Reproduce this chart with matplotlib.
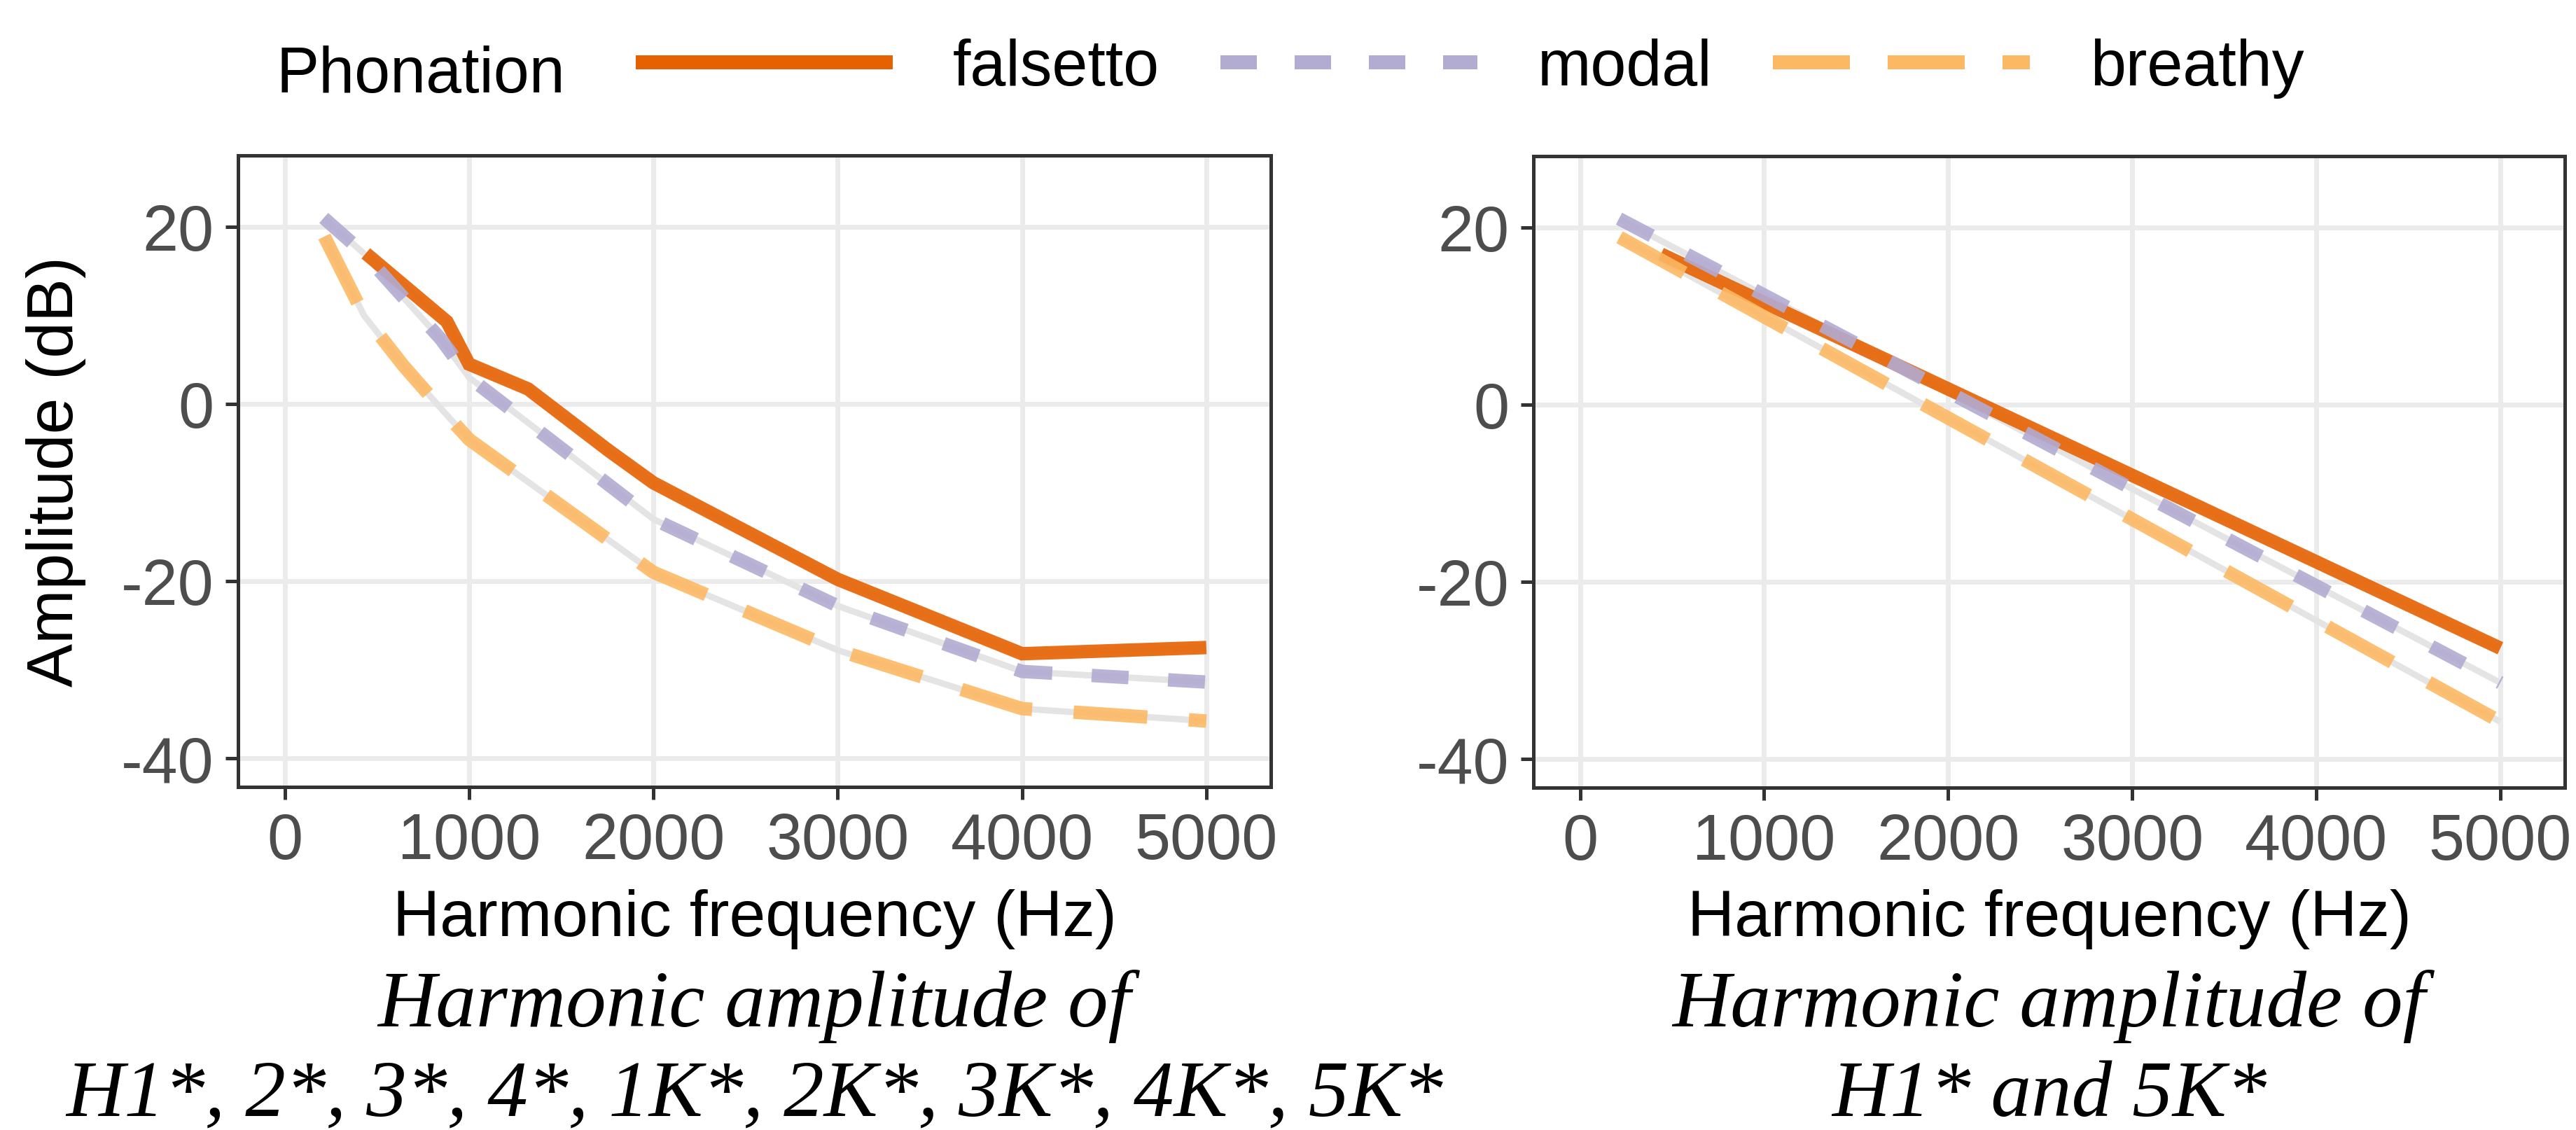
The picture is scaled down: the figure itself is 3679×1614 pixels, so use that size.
import matplotlib
matplotlib.use('Agg')
import matplotlib.pyplot as plt
from matplotlib.lines import Line2D

# ---------------- data ----------------
phonations = ['falsetto', 'modal', 'breathy']
falsetto_freq = [440, 880, 1320, 1760, 1000, 2000, 3000, 4000, 5000]
falsetto_amp = [17.0, 9.3, 1.7, -5.3, 4.5, -8.9, -19.8, -28.2, -27.5]
modal_freq = [212, 424, 636, 848, 1000, 2000, 3000, 4000, 5000]
modal_amp = [21.0, 17.1, 12.2, 7.3, 3.0, -13.0, -22.8, -30.2, -31.4]
breathy_freq = [215, 430, 645, 860, 1000, 2000, 3000, 4000, 5000]
breathy_amp = [18.9, 10.0, 4.3, -0.8, -4.0, -19.0, -27.8, -34.4, -35.8]

x_ticks = [0, 1000, 2000, 3000, 4000, 5000]
y_ticks = [-40, -20, 0, 20]
x_label = 'Harmonic frequency (Hz)'
y_label = 'Amplitude (dB)'
captions = [['Harmonic amplitude of', 'H1*, 2*, 3*, 4*, 1K*, 2K*, 3K*, 4K*, 5K*'],
            ['Harmonic amplitude of', 'H1* and 5K*']]
legend_title = 'Phonation'

# ---------------- style ----------------
colors = {'falsetto': '#E66101', 'modal': '#B2ABD2', 'breathy': '#FDB863'}
LW = 13.8
dashes = {'falsetto': None, 'modal': (2.75, 2.95), 'breathy': (5.5, 3.1)}
leg_dashes = {'falsetto': None, 'modal': (2.6, 2.7), 'breathy': (5.5, 2.7)}

W, H = 3679, 1615
DPI = 100
plt.rcParams['font.family'] = ['Liberation Sans', 'DejaVu Sans']

fig = plt.figure(figsize=(W / DPI, H / DPI), dpi=DPI)

def px_axes(x0, x1, y0, y1):
    return fig.add_axes([x0 / W, 1 - y1 / H, (x1 - x0) / W, (y1 - y0) / H])

ax_left = px_axes(340, 1815, 223, 1125)
ax_right = px_axes(2190, 3663, 224, 1126)

series = {
    'falsetto': (falsetto_freq, falsetto_amp),
    'modal': (modal_freq, modal_amp),
    'breathy': (breathy_freq, breathy_amp),
}

def sorted_xy(f, a):
    pairs = sorted(zip(f, a))
    return [p[0] for p in pairs], [p[1] for p in pairs]

for i, ax in enumerate([ax_left, ax_right]):
    for name in phonations:
        f, a = series[name]
        if i == 0:
            xs, ys = sorted_xy(f, a)
        else:
            xs, ys = [f[0], f[-1]], [a[0], a[-1]]
        ax.plot(xs, ys, color='#E4E4E4', lw=6.5, solid_capstyle='butt', zorder=2)
    for name in phonations:
        f, a = series[name]
        if i == 0:
            xs, ys = sorted_xy(f, a)
        else:
            xs, ys = [f[0], f[-1]], [a[0], a[-1]]
        ln, = ax.plot(xs, ys, color=colors[name], lw=LW, alpha=0.9,
                      solid_capstyle='butt', dash_capstyle='butt',
                      solid_joinstyle='miter', zorder=3)
        if dashes[name] is not None:
            ln.set_dashes(dashes[name])

    ax.set_xlim(-253, 5350)
    ax.set_ylim(-43.24, 28.06)
    ax.set_xticks(x_ticks)
    ax.set_yticks(y_ticks)
    ax.set_xticklabels([str(t) for t in x_ticks])
    ax.set_yticklabels([str(t) for t in y_ticks])
    ax.grid(True, color='#EBEBEB', lw=5.0, zorder=0)
    ax.set_axisbelow(True)
    for sp in ax.spines.values():
        sp.set_color('#333333')
        sp.set_linewidth(3.6)
        sp.set_zorder(5)
    ax.tick_params(axis='both', direction='out', length=13, width=3.6,
                   color='#333333', labelcolor='#4D4D4D', labelsize=66, pad=12)

    pos = ax.get_position()
    cx = (pos.x0 + pos.x1) / 2
    fig.text(cx, 1 - 1337 / H, x_label, ha='center', va='baseline',
             fontsize=67, color='black')
    fig.text(cx, 1 - 1466 / H, captions[i][0], ha='center', va='baseline',
             fontsize=83, style='italic', family=['Liberation Serif', 'DejaVu Serif'])
    fig.text(cx, 1 - 1594 / H, captions[i][1], ha='center', va='baseline',
             fontsize=83, style='italic', family=['Liberation Serif', 'DejaVu Serif'])

fig.text(80 / W, 1 - 674 / H, y_label, rotation=90, ha='center', va='center',
         fontsize=67, color='black')

# legend
handles = []
for name in phonations:
    h = Line2D([0], [0], color=colors[name], lw=14.4, solid_capstyle='butt',
               dash_capstyle='butt')
    if leg_dashes[name] is not None:
        h.set_dashes(leg_dashes[name])
    handles.append(h)
fig.text(394 / W, 1 - 132 / H, legend_title, ha='left', va='baseline', fontsize=66)
fig.legend(handles, phonations, loc='center left',
           bbox_to_anchor=(908 / W, 1 - 98 / H), ncol=3, frameon=False,
           fontsize=66, handlelength=4.0, handletextpad=0.94, columnspacing=0.95,
           borderpad=0, borderaxespad=0)

fig.savefig('out.png', dpi=DPI)
